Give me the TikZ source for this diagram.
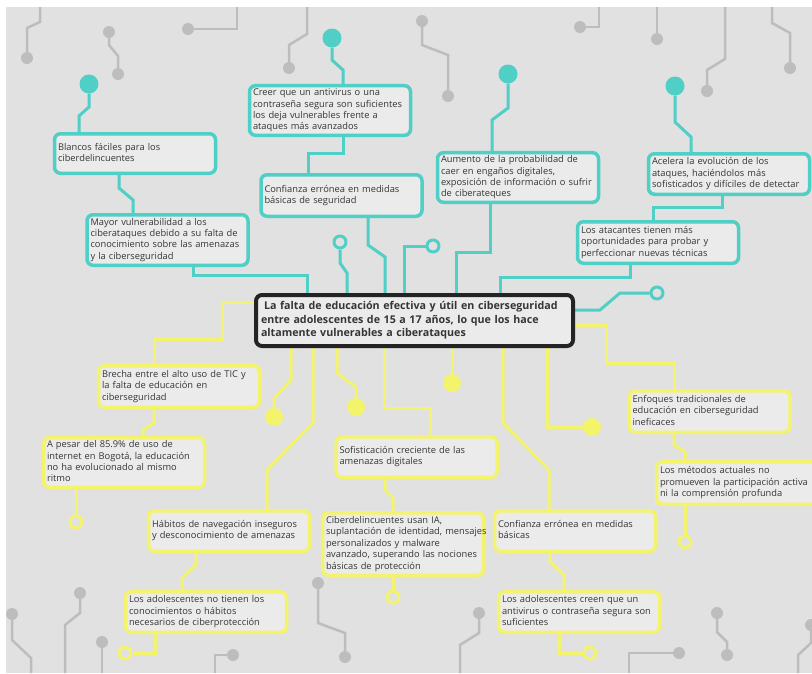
\documentclass[tikz,border=0pt]{standalone}
\usepackage{fontspec}
\setmainfont{Open Sans}
\usetikzlibrary{backgrounds,shadows}
\definecolor{Bgray}{HTML}{E1E1E1}
\definecolor{Boxfill}{HTML}{EBEBEB}
\definecolor{Teal}{HTML}{4FCFC5}
\definecolor{Yel}{HTML}{F3F36C}
\definecolor{Wire}{HTML}{BDBDBD}
\definecolor{Ink}{HTML}{353535}
\definecolor{Hubline}{HTML}{242424}
% lines of a box never wrap
\newcommand{\lns}[1]{\begin{tabular}{@{}l@{}}#1\end{tabular}}

\begin{document}
\begin{tikzpicture}[x=1pt,y=-1pt,line join=round,line cap=round,
  box/.style={rectangle,rounded corners=6pt,line width=3.5pt,fill=Boxfill,
    text width=154pt,inner xsep=3.5pt,inner ysep=2pt,align=left,text=Ink,
    font=\fontsize{9.3}{11.4}\selectfont,
    drop shadow={shadow xshift=0.8pt,shadow yshift=-1.2pt,opacity=0.15}},
  tbox/.style={box,draw=Teal},
  ybox/.style={box,draw=Yel},
  hub/.style={box,draw=Hubline,line width=4pt,text width=307pt,inner xsep=5pt,
    font=\fontsize{10.7}{13.4}\selectfont\bfseries},
  tdot/.style={circle,fill=Teal,inner sep=0pt,minimum size=19pt},
  ydot/.style={circle,fill=Yel,inner sep=0pt,minimum size=18pt},
  tring/.style={circle,draw=Teal,fill=Bgray,line width=3pt,inner sep=0pt,minimum size=12pt},
  yring/.style={circle,draw=Yel,fill=Bgray,line width=3pt,inner sep=0pt,minimum size=12pt},
  tline/.style={draw=Teal,line width=3pt,line cap=butt},
  yline/.style={draw=Yel,line width=3pt,line cap=butt},
  wire/.style={draw=Wire,line width=2.5pt,line cap=butt}]
\useasboundingbox (0,0) rectangle (812,673);

% ---- background and grey circuit traces ----
\begin{scope}[on background layer]
\fill[white] (0,0) rectangle (812,673);
\fill[Bgray] (6,7) rectangle (812,673);
\draw[wire] (40,7) -- (40,22) -- (27,28) -- (27,58);
\draw[wire] (109,32) -- (109,45) -- (118,56) -- (118,74);
\draw[wire] (188,29) -- (237,29) -- (237,7);
\draw[wire] (307,7) -- (307,34) -- (289,45) -- (289,68);
\draw[wire] (422,21) -- (422,45) -- (448,55) -- (448,96);
\draw[wire] (580,27) -- (599,27) -- (599,7);
\draw[wire] (657,7) -- (657,39);
\draw[wire] (725,7) -- (725,59) -- (707,70) -- (707,91);
\draw[wire] (772,7) -- (772,23) -- (790,33) -- (790,68);
\draw[wire] (12,614) -- (12,640) -- (31,658) -- (31,673);
\draw[wire] (80,593) -- (80,613) -- (65,625) -- (65,673);
\draw[wire] (102,642) -- (102,673);
\draw[wire] (233,655) -- (215,655) -- (215,673);
\draw[wire] (318,583) -- (318,623) -- (345,633) -- (345,657);
\draw[wire] (479,613) -- (479,633) -- (460,645) -- (460,673);
\draw[wire] (679,653) -- (629,653) -- (629,673);
\draw[wire] (717,613) -- (717,632) -- (727,642) -- (727,655);
\draw[wire] (811,625) -- (811,643) -- (798,655) -- (798,673);
\foreach \x/\y in {27/58,109/32,118/74,188/29,289/68,422/21,448/96,580/27,657/39,
                   707/91,790/68,12/614,80/593,102/642,233/655,318/583,345/657,
                   479/613,679/653,717/613,727/655,811/625}
  \fill[Wire] (\x,\y) circle[radius=6];
\end{scope}

% ---- central problem ----
\node[hub,minimum height=51pt] (hub) at (414.5,320.5)
  {\lns{\hspace*{3pt}La falta de educación efectiva y útil en ciberseguridad\\
   entre adolescentes de 15 a 17 años, lo que los hace\\
   altamente vulnerables a ciberataques}};

% ---- teal branch (effects) ----
\node[tbox,minimum height=39.5pt] (blancos) at (135,153.5)
  {\lns{Blancos fáciles para los\\ ciberdelincuentes}};
\node[tbox,minimum height=49.5pt] (creer) at (330,110.5)
  {\lns{Creer que un antivirus o una\\ contraseña segura son suficientes\\
   los deja vulnerables frente a\\ ataques más avanzados}};
\node[tbox,minimum height=41.5pt] (confia) at (341.5,195.5)
  {\lns{Confianza errónea en medidas\\ básicas de seguridad}};
\node[tbox,minimum height=50.5pt] (mayor) at (167.5,240)
  {\lns{Mayor vulnerabilidad a los\\ ciberataques debido a su falta de\\
   conocimiento sobre las amenazas\\ y la ciberseguridad}};
\node[tbox,minimum height=49.5pt] (aumento) at (518,177.5)
  {\lns{Aumento de la probabilidad de\\ caer en engaños digitales,\\
   exposición de información o sufrir\\ de ciberateques}};
\node[tbox,minimum height=40.5pt] (acelera) at (729,174)
  {\lns{Acelera la evolución de los\\ ataques, haciéndolos más\\
   sofisticados y difíciles de detectar}};
\node[tbox,minimum height=41.5pt] (atacan) at (658,242.5)
  {\lns{Los atacantes tienen más\\ oportunidades para probar y\\
   perfeccionar nuevas técnicas}};

\node[tdot] (td1) at (89,84) {};
\node[tdot] (td2) at (332,38) {};
\node[tdot] (td3) at (675,86) {};
\node[tdot] (td4) at (508,74) {};
\node[tring] (tr1) at (340,242) {};
\node[tring] (tr2) at (433,246) {};
\node[tring] (tr3) at (657,293) {};

% ---- yellow branch (causes) ----
\node[ybox,minimum height=41.5pt] (brecha) at (179,386.5)
  {\lns{Brecha entre el alto uso de TIC y\\ la falta de educación en\\ ciberseguridad}};
\node[ybox,minimum height=49.5pt] (bogota) at (124,462.5)
  {\lns{A pesar del 85.9\% de uso de\\ internet en Bogotá, la educación\\
   no ha evolucionado al mismo\\ ritmo}};
\node[ybox,minimum height=40.5pt] (sofist) at (416.5,457)
  {\lns{Sofisticación creciente de las\\ amenazas digitales}};
\node[ybox,minimum height=41.5pt] (enfoq) at (709.5,411.5)
  {\lns{Enfoques tradicionales de\\ educación en ciberseguridad\\ ineficaces}};
\node[ybox,minimum height=42.5pt] (metodos) at (737,483)
  {\lns{Los métodos actuales no\\ promueven la participación activa\\
   ni la comprensión profunda}};
\node[ybox,minimum height=40.5pt] (habitos) at (229,531)
  {\lns{Hábitos de navegación inseguros\\ y desconocimiento de amenazas}};
\node[ybox,minimum height=62.5pt] (ciberd) at (403,544)
  {\lns{Ciberdelincuentes usan IA,\\ suplantación de identidad, mensajes\\
   personalizados y malware\\ avanzado, superando las nociones\\
   básicas de protección}};
\node[ybox,minimum height=40.5pt] (basicas) at (575,531)
  {\lns{Confianza errónea en medidas\\ básicas}};
\node[ybox,minimum height=40.5pt] (noconoc) at (206,612)
  {\lns{Los adolescentes no tienen los\\ conocimientos o hábitos\\
   necesarios de ciberprotección}};
\node[ybox,minimum height=40.5pt] (creen) at (579,612)
  {\lns{Los adolescentes creen que un\\ antivirus o contraseña segura son\\
   suficientes}};

\node[ydot] (yd1) at (274,417) {};
\node[ydot] (yd2) at (356,407) {};
\node[ydot] (yd3) at (452,383) {};
\node[ydot] (yd4) at (592,427) {};
\node[yring] (yr1) at (76,522) {};
\node[yring] (yr2) at (685,542) {};
\node[yring] (yr3) at (393,597) {};
\node[yring] (yr4) at (125,653) {};
\node[yring] (yr5) at (590,653) {};

% ---- connectors ----
\begin{scope}[on background layer]
\draw[tline] (td1) -- (89,107) -- (79,116) -- (79,0 |- blancos.north);
\draw[tline] (119,0 |- blancos.south) -- (119,188) -- (133,200) -- (133,0 |- mayor.north);
\draw[tline] (193,0 |- mayor.south) -- (193,275) -- (307,275) -- (307,0 |- hub.north);
\draw[tline] (td2) -- (332,60) -- (343,70) -- (343,0 |- creer.north);
\draw[tline] (343,0 |- creer.south) -- (343,153) -- (308,153) -- (308,0 |- confia.north);
\draw[tline] (368,0 |- confia.south) -- (368,245) -- (385,257) -- (385,0 |- hub.north);
\draw[tline] (tr1) -- (340,263) -- (347,273) -- (347,0 |- hub.north);
\draw[tline] (tr2) -- (404,246) -- (404,0 |- hub.north);
\draw[tline] (490,0 |- aumento.south) -- (490,252) -- (456,252) -- (456,0 |- hub.north);
\draw[tline] (630,0 |- atacan.south) -- (630,277) -- (500,277) -- (500,0 |- hub.north);
\draw[tline] (722,0 |- acelera.south) -- (722,207) -- (653,207) -- (653,0 |- atacan.north);
\draw[tline] (td3) -- (675,122) -- (691,137) -- (691,0 |- acelera.north);
\draw[tline] (td4) -- (508,108) -- (492,120) -- (492,0 |- aumento.north);
\draw[tline] (hub.east |- 0,310) -- (600,310) -- (620,293) -- (tr3);

\draw[yline] (hub.west |- 0,302) -- (222,302) -- (222,339) -- (154,339) -- (154,0 |- brecha.north);
\draw[yline] (154,0 |- brecha.south) -- (154,423) -- (143,430) -- (143,0 |- bogota.north);
\draw[yline] (76,0 |- bogota.south) -- (yr1);
\draw[yline] (291,0 |- hub.south) -- (291,380) -- (274,398) -- (yd1);
\draw[yline] (313,0 |- hub.south) -- (313,423) -- (267,470) -- (267,0 |- habitos.north);
\draw[yline] (337,0 |- hub.south) -- (337,373) -- (356,387) -- (yd2);
\draw[yline] (384,0 |- hub.south) -- (384,408) -- (430,408) -- (430,0 |- sofist.north);
\draw[yline] (452,0 |- hub.south) -- (yd3);
\draw[yline] (503,0 |- hub.south) -- (503,423) -- (549,470) -- (549,0 |- basicas.north);
\draw[yline] (547,0 |- hub.south) -- (547,427) -- (yd4);
\draw[yline] (hub.east |- 0,325) -- (606,325) -- (606,363) -- (674,363) -- (674,0 |- enfoq.north);
\draw[yline] (674,0 |- enfoq.south) -- (674,445) -- (685,452) -- (685,0 |- metodos.north);
\draw[yline] (685,0 |- metodos.south) -- (yr2);
\draw[yline] (385,0 |- sofist.south) -- (385,490) -- (393,498) -- (393,0 |- ciberd.north);
\draw[yline] (393,0 |- ciberd.south) -- (yr3);
\draw[yline] (196,0 |- habitos.south) -- (196,565) -- (182,578) -- (182,0 |- noconoc.north);
\draw[yline] (155,0 |- noconoc.south) -- (155,653) -- (yr4);
\draw[yline] (550,0 |- basicas.south) -- (550,562) -- (564,575) -- (564,0 |- creen.north);
\draw[yline] (559,0 |- creen.south) -- (559,653) -- (yr5);
\end{scope}
\end{tikzpicture}
\end{document}
